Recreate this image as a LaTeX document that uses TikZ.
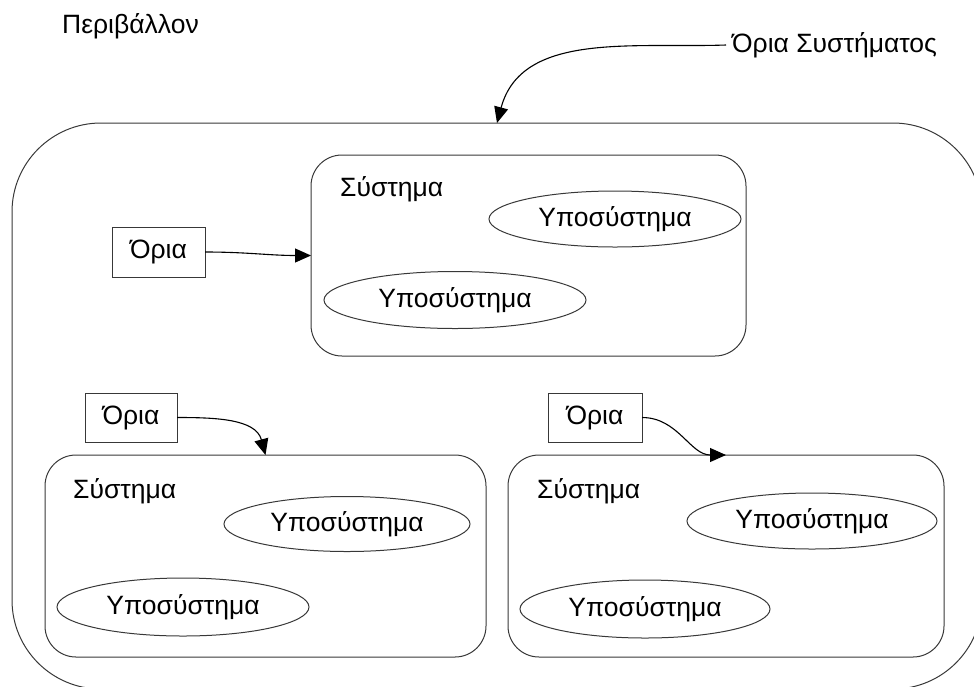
\documentclass[tikz,border=0pt]{standalone}
\usepackage{fontspec}
\setmainfont{Liberation Sans}
\usetikzlibrary{arrows.meta,shapes.geometric}

\begin{document}
\begin{tikzpicture}[x=1pt,y=-1pt,
  font=\fontsize{26.5}{30}\selectfont,
  outline/.style={draw=black!78, line width=1pt},
  envbox/.style={outline, rounded corners=89pt, inner sep=0pt, outer sep=0pt, anchor=north west},
  sysbox/.style={outline, rounded corners=31pt, inner sep=0pt, outer sep=0pt, anchor=north west},
  subsys/.style={outline, ellipse, inner sep=0pt, outer sep=0pt},
  limbox/.style={outline, rectangle, inner sep=0pt, outer sep=0pt},
  caption/.style={anchor=west, inner sep=0pt},
  flow/.style={draw=black, line width=1.1pt, -{Triangle[length=16pt,width=14pt]}},
]
\useasboundingbox (0,0) rectangle (974,686);

% environment boundary (runs past the page edge at right and bottom)
\begin{scope}
  \clip (0,0) rectangle (974,686);
  \node[envbox, minimum width=970pt, minimum height=566pt] (env) at (12,123) {};
\end{scope}

\node[caption] (envlbl) at (62,26) {Περιβάλλον};
\node[caption] (bndlbl) at (732,45) {Όρια Συστήματος};
\coordinate (bndstart) at ([xshift=-6pt]bndlbl.west);

% systems
\node[sysbox, minimum width=435pt, minimum height=201pt] (s1) at (311,155) {};
\node[sysbox, minimum width=441pt, minimum height=202pt] (s2) at (45,455) {};
\node[sysbox, minimum width=436pt, minimum height=202pt] (s3) at (508,455) {};

\node[caption] (s1lbl) at (340,189) {Σύστημα};
\node[caption] (s2lbl) at (73,491) {Σύστημα};
\node[caption] (s3lbl) at (537,491) {Σύστημα};

% subsystems
\node[subsys, minimum width=252pt, minimum height=56pt] (e1) at (615,219) {Υποσύστημα};
\node[subsys, minimum width=262pt, minimum height=57pt] (e2) at (455,300) {Υποσύστημα};
\node[subsys, minimum width=246pt, minimum height=55pt] (e3) at (347,524) {Υποσύστημα};
\node[subsys, minimum width=252pt, minimum height=58pt] (e4) at (183,607) {Υποσύστημα};
\node[subsys, minimum width=250pt, minimum height=56pt] (e5) at (812,521) {Υποσύστημα};
\node[subsys, minimum width=250pt, minimum height=58pt] (e6) at (645,609) {Υποσύστημα};

% boundary markers
\node[limbox, minimum width=93pt, minimum height=50pt] (b1) at (158.5,252) {Όρια};
\node[limbox, minimum width=92pt, minimum height=49pt] (b2) at (131,417.5) {Όρια};
\node[limbox, minimum width=94pt, minimum height=49pt] (b3) at (595,417.5) {Όρια};

% connectors
\draw[flow] (bndstart) to[out=182,in=75] (env.north);
\draw[flow] (b1.east) to[out=0,in=180] (s1.west);
\draw[flow] (b2.east) to[out=0,in=105] (s2.north);
\draw[flow] (b3.east) to[out=0,in=180] (s3.north);
\end{tikzpicture}
\end{document}
